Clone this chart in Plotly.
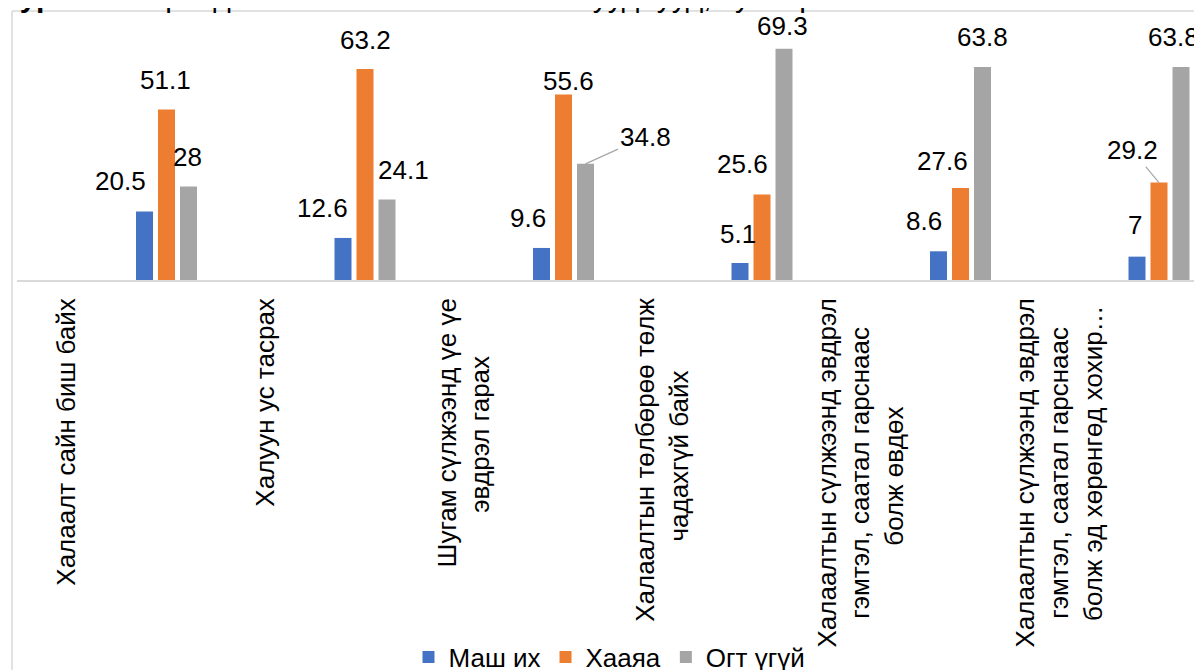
import plotly.graph_objects as go

categories = [
    "Халаалт сайн биш байх",
    "Халуун ус тасрах",
    "Шугам сүлжээнд үе үе<br>эвдрэл гарах",
    "Халаалтын төлбөрөө төлж<br>чадахгүй байх",
    "Халаалтын сүлжээнд эвдрэл<br>гэмтэл, саатал гарснаас<br>болж өвдөх",
    "Халаалтын сүлжээнд эвдрэл<br>гэмтэл, саатал гарснаас<br>болж эд хөрөнгөд хохир…",
]
series_names = ["Маш их", "Хааяа", "Огт үгүй"]
mash_ikh = [20.5, 12.6, 9.6, 5.1, 8.6, 7]
khaaya = [51.1, 63.2, 55.6, 25.6, 27.6, 29.2]
ogt_ugui = [28, 24.1, 34.8, 69.3, 63.8, 63.8]
title_bold = "Зураг 5.5"
title_rest = " Өрхөд халаалттай холбоотой асуудлууд, хувиар"

# ---- styles / layout (not data) ----
colors = ["#4472C4", "#ED7D31", "#A5A5A5"]
FONT = "Arial, Liberation Sans, sans-serif"
FS = 26
PAGE = 8                           # default body margin of the html page
W, H = 1202 - PAGE, 670 - PAGE
# screen-pixel targets, converted to figure pixels
L, T, B_PX = 17 - PAGE, 13 - PAGE, 280 - PAGE
STEP = 198.5                       # px per category
CAT0 = 67 - PAGE                   # px of first category
bar_w = 17 / STEP
offsets = [69 / STEP, 91 / STEP, 113 / STEP]
YMAX = 80
r0 = -(CAT0 - L) / STEP
r1 = r0 + (W - L) / STEP

# trailing no-break spaces per line to centre wrapped rotated lines
line_pad = [[0], [0], [0, 8], [0, 10], [0, 4, 15], [0, 4, 1]]
tick_text = []
for lab, pads in zip(categories, line_pad):
    lines = lab.split("<br>")
    tick_text.append("<br>".join(ln + "\u00a0" * p for ln, p in zip(lines, pads)))

# label pixel shifts from bar-top centre: (dx, dy), or leader-line (ax, ay, True)
label_shift = [
    [(-24.5, 30.6), (-21, 30), (-13.5, 30), (-2, 29), (-14.5, 30), (-2, 31.6)],
    [(-1.5, 29.5), (0, 29), (4.5, 13.4), (-20, 30.6), (-18.5, 27), (-27, 32.5, True)],
    [(-1.5, 29.5), (16, 29.6), (59.5, 27, True), (-2, 22.7), (-0.5, 30), (-8, 30)],
]

all_series = [mash_ikh, khaaya, ogt_ugui]

fig = go.Figure()
for s, (name, vals) in enumerate(zip(series_names, all_series)):
    fig.add_trace(go.Bar(
        x=categories, y=vals, name=name,
        marker=dict(color=colors[s], line=dict(width=0)),
        width=bar_w, offset=offsets[s],
    ))

annotations = []
for s, vals in enumerate(all_series):
    for i, v in enumerate(vals):
        sh = label_shift[s][i]
        xc = i + offsets[s] + bar_w / 2
        txt = f"{v:g}"
        if len(sh) == 3:
            annotations.append(dict(
                x=xc, y=v, xref="x", yref="y", text=txt, showarrow=True,
                ax=sh[0], ay=-sh[1], arrowhead=0, arrowwidth=1.2,
                arrowcolor="#A6A6A6", standoff=0,
                font=dict(family=FONT, size=FS, color="black"),
            ))
        else:
            annotations.append(dict(
                x=xc, y=v, xref="x", yref="y", text=txt, showarrow=False,
                xanchor="center", yanchor="middle",
                xshift=sh[0], yshift=sh[1],
                font=dict(family=FONT, size=FS, color="black"),
            ))

ph = B_PX - T
def py(p):          # screen pixel y -> paper
    return (B_PX - (p - PAGE)) / ph
def px(p):          # screen pixel x -> paper
    return ((p - PAGE) - L) / (W - L)

annotations.append(dict(
    xref="paper", yref="paper", x=px(-1), y=py(-4),
    xanchor="left", yanchor="middle", showarrow=False,
    text=f"<b>{title_bold}</b>{title_rest}",
    font=dict(family=FONT, size=30, color="black"),
))

shapes = [
    dict(type="line", xref="paper", yref="paper",
         x0=px(12), x1=px(12), y0=py(11), y1=py(680),
         line=dict(color="#D9D9D9", width=1.5)),
    dict(type="line", xref="paper", yref="paper",
         x0=px(12), x1=px(1210), y0=py(11), y1=py(11),
         line=dict(color="#D9D9D9", width=1.5)),
]

fig.update_layout(
    width=W, height=H,
    margin=dict(l=L, r=0, t=T, b=H - B_PX, pad=0, autoexpand=False),
    paper_bgcolor="white", plot_bgcolor="white",
    barmode="overlay",
    font=dict(family=FONT, size=FS, color="black"),
    showlegend=True,
    legend=dict(orientation="h", x=0.5, xanchor="center",
                y=py(657), yanchor="middle",
                font=dict(family=FONT, size=FS, color="black"),
                bgcolor="rgba(0,0,0,0)", itemwidth=30),
    xaxis=dict(type="category", categoryorder="array", categoryarray=categories,
               tickmode="array", tickvals=categories, ticktext=tick_text,
               range=[r0, r1], tickangle=-90, showline=True, automargin=False,
               linecolor="#D9D9D9", linewidth=1.5, ticks="", showgrid=False,
               zeroline=False, ticklabelstandoff=6,
               tickfont=dict(family=FONT, size=FS, color="black")),
    yaxis=dict(range=[0, YMAX], visible=False, showgrid=False, zeroline=False,
               automargin=False),
    annotations=annotations,
    shapes=shapes,
)

fig.write_html("out.html")
